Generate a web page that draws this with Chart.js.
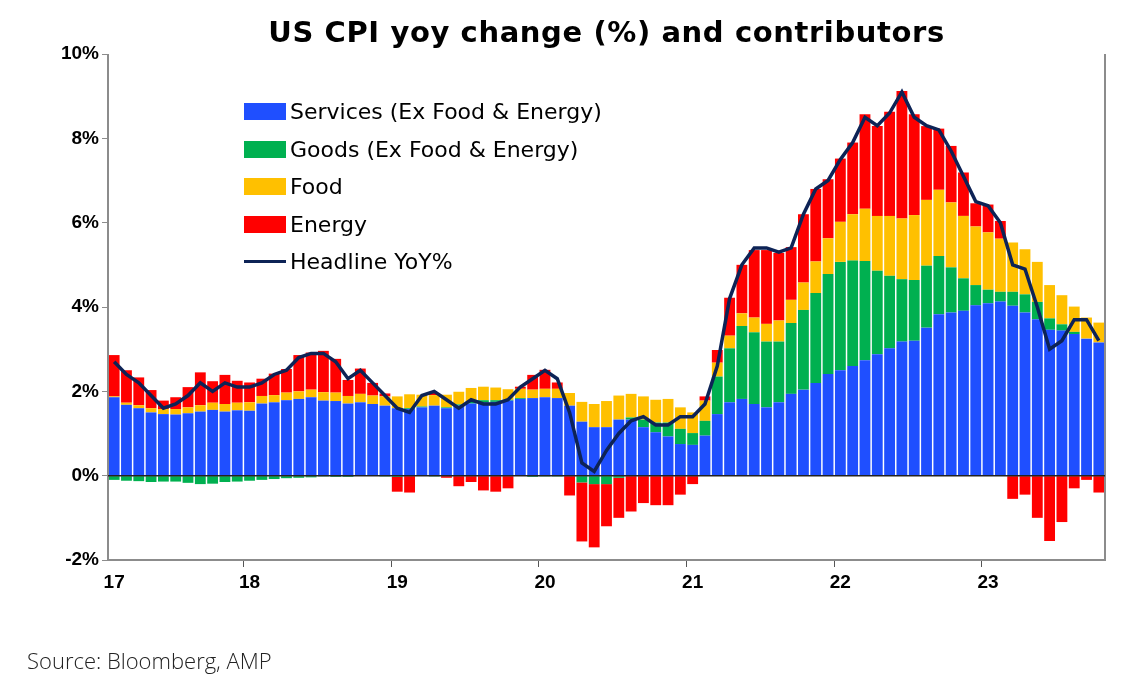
<!DOCTYPE html>
<html>
<head>
<meta charset="utf-8">
<script src="https://cdn.jsdelivr.net/npm/chart.js@4.4.0/dist/chart.umd.min.js"></script>
<style>
  body { margin: 0; width: 1134px; height: 687px; background: #fff; position: relative; overflow: hidden; font-family: Arial, "Liberation Sans", sans-serif; }
  #wrap { position: absolute; left: 0; top: 0; width: 1134px; height: 687px; }
  #title { position: absolute; left: 108px; width: 997px; top: 15px; text-align: center; font-weight: bold; font-size: 29px; letter-spacing: 0.6px; color: #000; font-family: "DejaVu Sans", Arial, sans-serif; }
  #legend { position: absolute; left: 244px; top: 93px; font-size: 22px; color: #000; font-family: "DejaVu Sans", Arial, sans-serif; }
  #legend div { height: 37.5px; display: flex; align-items: center; }
  #legend span.box { display: inline-block; width: 42px; height: 17px; margin-right: 4px; }
  #legend span.ln { display: inline-block; width: 42px; height: 3px; margin-right: 4px; background: #0D2356; }
  #source { position: absolute; left: 27px; top: 645px; font-size: 22px; color: #222; font-family: "Open Sans", Lato, sans-serif; font-weight: 300; }
</style>
</head>
<body>
<div id="wrap"><canvas id="cpiChart" width="1134" height="687"></canvas></div>
<div id="title">US CPI yoy change (%) and contributors</div>
<div id="legend">
  <div><span class="box" style="background:#1F4FFF"></span>Services (Ex Food &amp; Energy)</div>
  <div><span class="box" style="background:#00B050"></span>Goods (Ex Food &amp; Energy)</div>
  <div><span class="box" style="background:#FFC000"></span>Food</div>
  <div><span class="box" style="background:#FF0000"></span>Energy</div>
  <div><span class="ln"></span>Headline YoY%</div>
</div>
<div id="source">Source: Bloomberg, AMP</div>
<script>
// ======================
// Data: monthly, Feb 2017 .. Oct 2023
// ======================
const months = [];
for (let y = 2017; y <= 2023; y++) {
    for (let m = 1; m <= 12; m++) {
        if (y === 2017 && m < 2) continue;
        if (y === 2023 && m > 10) continue;
        months.push(y + "-" + (m < 10 ? "0" + m : m));
    }
}
const yearLabels = { "2017-02": "17", "2018-01": "18", "2019-01": "19", "2020-01": "20", "2021-01": "21", "2022-01": "22", "2023-01": "23" };

const services = [
    1.86, 1.68, 1.60, 1.50, 1.46, 1.45, 1.48, 1.52, 1.56, 1.52, 1.55,
    1.54, 1.71, 1.74, 1.79, 1.82, 1.86, 1.78, 1.77, 1.71, 1.74, 1.70, 1.66,
    1.60, 1.58, 1.62, 1.66, 1.60, 1.66, 1.71, 1.74, 1.75, 1.78, 1.82, 1.84,
    1.86, 1.84, 1.66, 1.28, 1.15, 1.15, 1.33, 1.33, 1.15, 1.03, 0.93, 0.75,
    0.73, 0.95, 1.46, 1.74, 1.82, 1.70, 1.62, 1.74, 1.94, 2.04, 2.20, 2.41,
    2.50, 2.60, 2.74, 2.88, 3.02, 3.18, 3.20, 3.51, 3.83, 3.87, 3.91, 4.04,
    4.09, 4.13, 4.03, 3.87, 3.71, 3.46, 3.44, 3.36, 3.25, 3.16
];
const goods = [
    -0.10, -0.12, -0.13, -0.15, -0.14, -0.14, -0.17, -0.20, -0.19, -0.15, -0.14,
    -0.12, -0.10, -0.08, -0.06, -0.05, -0.04, -0.02, -0.03, -0.03, 0.00, 0.00, -0.02,
    -0.03, 0.02, 0.02, -0.02, 0.02, 0.03, 0.05, 0.05, 0.04, 0.02, 0.02, -0.03,
    -0.02, -0.02, 0.00, -0.16, -0.20, -0.20, -0.05, 0.05, 0.18, 0.23, 0.33, 0.36,
    0.28, 0.35, 0.89, 1.28, 1.73, 1.70, 1.56, 1.44, 1.68, 1.89, 2.13, 2.37,
    2.57, 2.50, 2.35, 1.98, 1.72, 1.48, 1.44, 1.47, 1.38, 1.07, 0.77, 0.48,
    0.32, 0.23, 0.33, 0.43, 0.41, 0.27, 0.15, 0.05, 0.00, 0.00
];
const food = [
    0.02, 0.05, 0.07, 0.10, 0.12, 0.13, 0.14, 0.15, 0.17, 0.18, 0.18,
    0.20, 0.18, 0.17, 0.18, 0.18, 0.18, 0.20, 0.20, 0.18, 0.20, 0.20, 0.22,
    0.28, 0.33, 0.28, 0.25, 0.30, 0.30, 0.32, 0.32, 0.30, 0.25, 0.22, 0.20,
    0.20, 0.22, 0.30, 0.47, 0.55, 0.62, 0.57, 0.56, 0.55, 0.54, 0.56, 0.51,
    0.49, 0.48, 0.33, 0.30, 0.30, 0.35, 0.42, 0.50, 0.55, 0.65, 0.75, 0.85,
    0.95, 1.10, 1.24, 1.30, 1.42, 1.44, 1.54, 1.56, 1.57, 1.54, 1.48, 1.39,
    1.36, 1.26, 1.17, 1.07, 0.95, 0.79, 0.69, 0.60, 0.50, 0.47
];
const energy = [
    0.98, 0.77, 0.66, 0.43, 0.20, 0.28, 0.48, 0.78, 0.51, 0.69, 0.52,
    0.47, 0.41, 0.51, 0.56, 0.86, 0.88, 0.98, 0.80, 0.38, 0.60, 0.30, 0.07,
    -0.35, -0.40, 0.00, 0.05, -0.05, -0.25, -0.15, -0.35, -0.38, -0.30, 0.05, 0.35,
    0.45, 0.15, -0.47, -1.40, -1.50, -1.00, -0.95, -0.85, -0.65, -0.70, -0.70, -0.45,
    -0.20, 0.10, 0.30, 0.90, 1.15, 1.60, 1.75, 1.60, 1.25, 1.62, 1.72, 1.40,
    1.50, 1.70, 2.24, 2.13, 2.47, 3.02, 2.39, 1.75, 1.45, 1.34, 1.03, 0.55,
    0.66, 0.42, -0.55, -0.45, -1.00, -1.55, -1.10, -0.30, -0.10, -0.40
];
const headline = [
    2.7, 2.4, 2.2, 1.9, 1.6, 1.7, 1.9, 2.2, 2.0, 2.2, 2.1,
    2.1, 2.2, 2.4, 2.5, 2.8, 2.9, 2.9, 2.7, 2.3, 2.5, 2.2, 1.9,
    1.6, 1.5, 1.9, 2.0, 1.8, 1.6, 1.8, 1.7, 1.7, 1.8, 2.1, 2.3,
    2.5, 2.3, 1.5, 0.3, 0.1, 0.6, 1.0, 1.3, 1.4, 1.2, 1.2, 1.4,
    1.4, 1.7, 2.6, 4.2, 5.0, 5.4, 5.4, 5.3, 5.4, 6.2, 6.8, 7.0,
    7.5, 7.9, 8.5, 8.3, 8.6, 9.1, 8.5, 8.3, 8.2, 7.7, 7.1, 6.5,
    6.4, 6.0, 5.0, 4.9, 4.0, 3.0, 3.2, 3.7, 3.7, 3.2
];
const yTicks = [-2, 0, 2, 4, 6, 8, 10];

// ======================
// Plot frame + zero line
// ======================
const framePlugin = {
    id: "frame",
    afterDatasetsDraw(chart) {
        const { ctx, chartArea: a, scales } = chart;
        const y0 = scales.y.getPixelForValue(0);
        ctx.save();
        ctx.strokeStyle = "#8c8c8c";
        ctx.lineWidth = 2;
        ctx.beginPath();
        ctx.moveTo(a.left, a.top);
        ctx.lineTo(a.left, a.bottom);
        ctx.lineTo(a.right, a.bottom);
        ctx.lineTo(a.right, a.top);
        ctx.stroke();
        ctx.strokeStyle = "#222";
        ctx.lineWidth = 1.5;
        ctx.beginPath();
        ctx.moveTo(a.left, y0);
        ctx.lineTo(a.right, y0);
        ctx.stroke();
        ctx.restore();
    }
};

const barDs = (label, data, color) => ({
    type: "bar", label, data, backgroundColor: color, stack: "c",
    barPercentage: 0.88, categoryPercentage: 1.0, order: 2
});

new Chart(document.getElementById("cpiChart").getContext("2d"), {
    data: {
        labels: months,
        datasets: [
            {
                type: "line", label: "Headline YoY%", data: headline, stack: "h",
                borderColor: "#0D2356", borderWidth: 3.5, pointRadius: 0, tension: 0, order: 0
            },
            barDs("Services (Ex Food & Energy)", services, "#1F4FFF"),
            barDs("Goods (Ex Food & Energy)", goods, "#00B050"),
            barDs("Food", food, "#FFC000"),
            barDs("Energy", energy, "#FF0000")
        ]
    },
    options: {
        responsive: false,
        animation: false,
        layout: { padding: { top: 54, right: 29, left: 0, bottom: 0 } },
        plugins: { legend: { display: false }, tooltip: { enabled: false } },
        scales: {
            x: {
                stacked: true,
                afterFit(s) { s.height = 127; },
                grid: {
                    drawOnChartArea: false, tickLength: 7,
                    color: c => (yearLabels[months[c.index]] && c.index > 0) ? "#555" : "transparent"
                },
                border: { display: false },
                ticks: {
                    autoSkip: false, maxRotation: 0, padding: 4,
                    font: { family: "Arial", size: 19, weight: "bold" }, color: "#000",
                    callback: (v, i) => yearLabels[months[i]] || ""
                }
            },
            y: {
                stacked: true, min: -2, max: 10,
                afterFit(s) { s.width = 108; },
                afterBuildTicks(s) { s.ticks = yTicks.map(v => ({ value: v })); },
                grid: { drawOnChartArea: false, tickLength: 6, color: "#8c8c8c" },
                border: { display: false },
                ticks: {
                    font: { family: "Arial", size: 19, weight: "bold" }, color: "#000",
                    callback: v => v + "%"
                }
            }
        }
    },
    plugins: [framePlugin]
});
</script>
</body>
</html>
